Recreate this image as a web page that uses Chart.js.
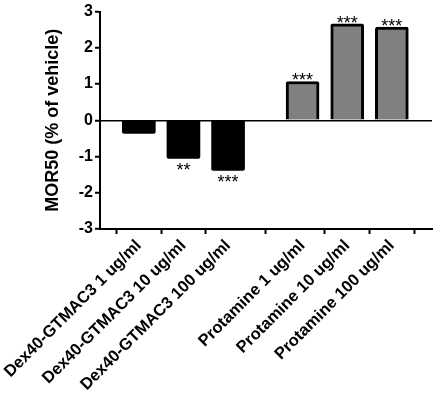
<!DOCTYPE html>
<html>
<head>
<meta charset="utf-8">
<script src="https://cdn.jsdelivr.net/npm/chart.js@4/dist/chart.umd.min.js"></script>
<style>
  html, body { margin: 0; padding: 0; background: #fff; }
  canvas { display: block; }
</style>
</head>
<body>
<canvas id="c" width="435" height="396"></canvas>
<script>
// ---- data ----
const categories = [
  "Dex40-GTMAC3 1 ug/ml",
  "Dex40-GTMAC3 10 ug/ml",
  "Dex40-GTMAC3 100 ug/ml",
  "Protamine 1 ug/ml",
  "Protamine 10 ug/ml",
  "Protamine 100 ug/ml"
];
const mor50Values = [-0.36, -1.05, -1.38, 1.07, 2.66, 2.57];
const significance = ["", "**", "***", "***", "***", "***"];
const groups = ["Dex40-GTMAC3", "Dex40-GTMAC3", "Dex40-GTMAC3", "Protamine", "Protamine", "Protamine"];
const yTickValues = [-3, -2, -1, 0, 1, 2, 3];
const yTitle = "MOR50 (% of vehicle)";

// ---- layout helpers (not data) ----
const GROUP_GAP = 0.67;
const xPos = categories.map((c, i) => i + (i >= 3 ? GROUP_GAP : 0));
const FONT = "Arial, 'Liberation Sans', sans-serif";

const points = categories.map((c, i) => ({ x: xPos[i], y: mor50Values[i] }));

const starPlugin = {
  id: 'stars',
  afterDatasetsDraw(chart) {
    const ctx = chart.ctx;
    const meta = chart.getDatasetMeta(0);
    const fs = 18;
    ctx.save();
    ctx.font = `${fs}px ${FONT}`;
    ctx.fillStyle = '#000';
    ctx.textAlign = 'center';
    ctx.textBaseline = 'alphabetic';
    meta.data.forEach((el, i) => {
      const s = significance[i];
      if (!s) return;
      const v = mor50Values[i];
      let cy;
      if (v >= 0) cy = el.y - 5.5;
      else cy = el.y + 7.5;
      ctx.fillText(s, el.x, cy + 0.57 * fs);
    });
    ctx.restore();
  }
};

new Chart(document.getElementById('c'), {
  type: 'bar',
  data: {
    datasets: [{
      data: points,
      backgroundColor: groups.map(g => g === 'Protamine' ? '#808080' : '#000000'),
      borderColor: '#000000',
      borderWidth: groups.map(g => g === 'Protamine' ? 3 : 0),
      borderRadius: 2,
      borderSkipped: 'start',
      barThickness: 33
    }]
  },
  options: {
    responsive: false,
    devicePixelRatio: 1,
    animation: false,
    layout: { padding: { top: 9, right: 3, left: 0, bottom: 0 } },
    plugins: { legend: { display: false }, tooltip: { enabled: false } },
    scales: {
      x: {
        type: 'linear',
        min: -0.87,
        max: 6.57,
        offset: false,
        afterBuildTicks: (scale) => { scale.ticks = xPos.map(v => ({ value: v })); },
        afterFit: (scale) => { scale.height = 167; scale.paddingLeft = 0; scale.paddingRight = 0; },
        ticks: {
          autoSkip: false,
          minRotation: 45,
          maxRotation: 45,
          padding: 2,
          color: '#000',
          font: { family: FONT, size: 16.5, weight: 'bold' },
          callback: (value, index) => categories[index]
        },
        grid: {
          drawOnChartArea: false,
          drawTicks: true,
          tickLength: 5,
          tickWidth: 2,
          tickColor: '#000',
          color: '#000'
        },
        border: { display: true, color: '#000', width: 2 }
      },
      y: {
        min: -3,
        max: 3,
        afterBuildTicks: (scale) => { scale.ticks = yTickValues.map(v => ({ value: v })); },
        afterFit: (scale) => { scale.width = 100; },
        ticks: {
          padding: 2,
          color: '#000',
          font: { family: FONT, size: 16, weight: 'bold' }
        },
        grid: {
          drawOnChartArea: true,
          drawTicks: true,
          tickLength: 5,
          tickWidth: 2,
          tickColor: '#000',
          color: (ctx) => (ctx.tick && ctx.tick.value === 0) ? '#000' : 'rgba(0,0,0,0)',
          lineWidth: 1.5
        },
        border: { display: true, color: '#000', width: 2 },
        title: {
          display: true,
          text: yTitle,
          color: '#000',
          font: { family: FONT, size: 18, weight: 'bold' },
          padding: { top: 42, bottom: 0 }
        }
      }
    }
  },
  plugins: [starPlugin]
});
</script>
</body>
</html>
